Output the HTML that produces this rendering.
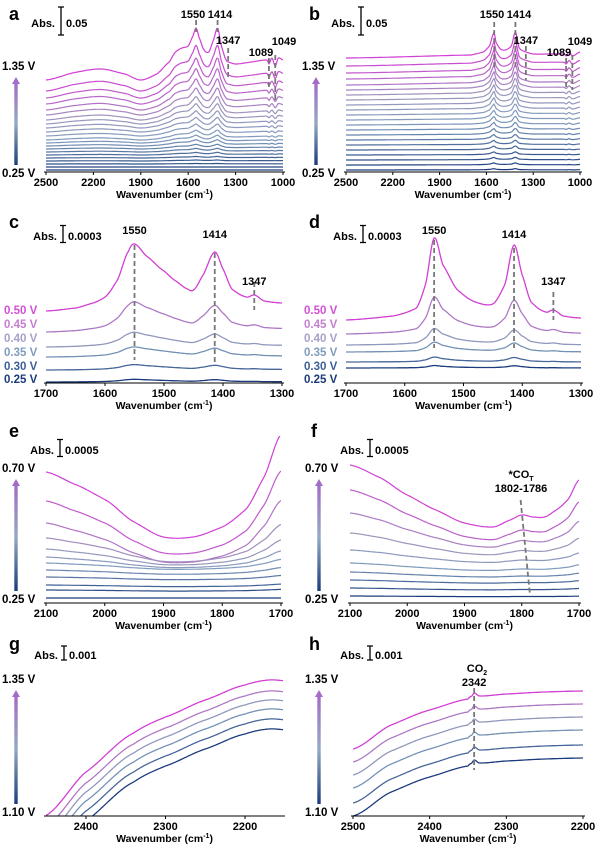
<!DOCTYPE html>
<html><head><meta charset="utf-8"><style>
html,body{margin:0;padding:0;background:#fff}
svg{display:block;font-family:"Liberation Sans",Arial,sans-serif;font-weight:bold}
</style></head><body>
<svg id="fig" width="600" height="852" viewBox="0 0 600 852" xmlns="http://www.w3.org/2000/svg">
<defs>
<linearGradient id="vgrad" x1="0" y1="1" x2="0" y2="0">
<stop offset="0" stop-color="#1b3b7c"/><stop offset="0.5" stop-color="#93a9c4"/><stop offset="1" stop-color="#a36cc8"/>
</linearGradient>
</defs>
</svg>
<script>
// ---------- data ----------
const aProfileW=[2500,2300,2150,2000,1900,1800,1720,1680,1640,1600,1570,1550,1530,1500,1470,1440,1414,1390,1360,1347,1300,1200,1100,1089,1070,1049,1030,1000];
const aProfileV=[0,8,11,6,0,6,18,28,32,34,44,52,42,30,28,40,52,34,20,18,16,18,20,16,22,14,22,20];
const aOffsets=[2,5,8,11,14,17,20,23,26,29,32,36,40,44,48,52,57,62,68,74,81,92];
const aAmps=[0,0,0.01,0.02,0.03,0.05,0.07,0.09,0.12,0.15,0.19,0.23,0.28,0.33,0.39,0.45,0.52,0.6,0.68,0.77,0.88,1];
const bProfileW=[2500,1700,1620,1580,1560,1550,1540,1510,1480,1440,1414,1390,1347,1300,1100,1089,1070,1049,1000];
const bProfileV=[0,3,6,12,22,26,16,9,8,12,26,10,6,4,4,2,6,2,6];
const bOffsets=[2,7,12,17,22,27,32,37,42,47,52,57,62,67,72,77,82,87,93,99,106,114];
const bAmps=[0.05,0.08,0.1,0.12,0.15,0.18,0.21,0.25,0.29,0.33,0.37,0.42,0.47,0.52,0.58,0.64,0.7,0.76,0.82,0.88,0.94,1];
const cProfileW=[1700,1650,1620,1600,1580,1560,1550,1530,1500,1480,1460,1450,1435,1414,1400,1385,1360,1347,1330,1300];
const cProfileV=[0,3,8,14,30,60,67,55,40,30,22,21,35,59,42,22,14,16,10,8];
const cOffsets=[72,51,36,26,13,1];
const cAmps=[1,0.45,0.22,0.15,0.08,0.04];
const dProfileW=[1700,1620,1580,1565,1550,1535,1510,1480,1450,1430,1414,1400,1385,1360,1347,1330,1300];
const dProfileV=[0,4,12,35,82,55,30,18,16,35,75,45,18,8,10,4,2];
const dOffsets=[63,49,38,31,21,15];
const dAmps=[1,0.45,0.2,0.12,0.06,0.03];
const eProfileW=[2100,2050,2000,1950,1900,1850,1800,1760,1730,1700];
const eProfileV=[0,-10,-22,-40,-52,-52,-44,-30,-5,30];
const eOffsets=[131,102,80,65,54,46,40,33,26,18,13,5];
const eAmps=[1.25,1,0.75,0.45,0.3,0.2,0.12,0.08,0.05,0.03,0.02,0];
const fProfileW=[2100,2050,2000,1950,1900,1850,1820,1800,1780,1760,1740,1720,1700];
const fProfileV=[0,-12,-30,-45,-58,-62,-55,-50,-52,-52,-45,-35,-15];
const fOffsets=[138,113,90,70,53,40,31,23,15,7];
const fAmps=[1,0.8,0.55,0.35,0.2,0.12,0.08,0.05,0.03,0.01];
const gProfileW=[2452,2400,2340,2300,2250,2200,2170,2145];
const gProfileV=[0,44,83,99,116,131,136,135];
const gOffsets=[0,-11,-20,-29,-39,-49];
const gAmps=[1,1,1,1,1,1];
const hProfileW=[2500,2450,2400,2350,2345,2342,2335,2300,2250,2200];
const hProfileV=[0,24,39,50,53,56,53,55,57,58];
const hOffsets=[67,54,41,28,13,0];
const hAmps=[1,1,1,1,1,1];
// tick labels
const aTicks=[2500,2200,1900,1600,1300,1000];
const cTicks=[1700,1600,1500,1400,1300];
const eTicks=[2100,2000,1900,1800,1700];
const gTicks=[2400,2300,2200];
const hTicks=[2500,2400,2300,2200];
const cVolts=["0.50 V","0.45 V","0.40 V","0.35 V","0.30 V","0.25 V"];

// ---------- helpers ----------
const svg=document.getElementById('fig');
const NS='http://www.w3.org/2000/svg';
function mk(tag,attrs,parent){const e=document.createElementNS(NS,tag);for(const k in attrs)e.setAttribute(k,attrs[k]);(parent||svg).appendChild(e);return e;}
function hex(c){return [parseInt(c.substr(1,2),16),parseInt(c.substr(3,2),16),parseInt(c.substr(5,2),16)];}
const stops=[[0,'#1b3b7c'],[0.45,'#7f9cbd'],[0.7,'#9c96bc'],[1,'#d13fd4']];
function col(t){for(let i=1;i<stops.length;i++){if(t<=stops[i][0]){const a=stops[i-1],b=stops[i];const f=(t-a[0])/(b[0]-a[0]);const A=hex(a[1]),B=hex(b[1]);return 'rgb('+A.map((v,j)=>Math.round(v+(B[j]-v)*f)).join(',')+')';}}return stops[stops.length-1][1];}
function interp(W,V,w){
  if(w>=W[0])return V[0];
  const n=W.length;
  for(let i=1;i<n;i++){const w0=W[i-1],w1=W[i];
    if(w<=w0&&w>=w1){
      const t=(w0-w)/(w0-w1);
      const p0=V[Math.max(i-2,0)],p1=V[i-1],p2=V[i],p3=V[Math.min(i+1,n-1)];
      // Catmull-Rom (uniform), lightly tensioned
      const m1=0.5*(p2-p0)*0.8,m2=0.5*(p3-p1)*0.8;
      const t2=t*t,t3=t2*t;
      return (2*t3-3*t2+1)*p1+(t3-2*t2+t)*m1+(-2*t3+3*t2)*p2+(t3-t2)*m2;
    }}
  return V[n-1];
}
let clipN=0;
function panel(p){
  const clipTop=p.clipTop||0;
  const g=mk('g',{});
  
  
  const xs=w=>p.x0+(p.w0-w)*(p.x1-p.x0)/(p.w0-p.w1);
  const ys=v=>p.axisY-v;
  clipN++;
  const cp=mk('clipPath',{id:'cp'+clipN},g);
  mk('rect',{x:p.cx0,y:clipTop,width:p.cx1-p.cx0,height:p.axisY-clipTop},cp);
  const cg=mk('g',{'clip-path':'url(#cp'+clipN+')'},g);
  const n=p.offsets.length;
  for(let i=0;i<n;i++){
    let pts=[];
    for(let px=p.cx0;px<=p.cx1+0.01;px+=1){
      const w=p.w0-(px-p.x0)*(p.w0-p.w1)/(p.x1-p.x0);
      const v=p.offsets[i]+p.amps[i]*interp(p.PW,p.PV,w);
      pts.push(px.toFixed(1)+','+ys(v).toFixed(1));
    }
    const t=p.topFirst? (n-1-i)/(n-1) : i/(n-1);
    const pl=mk('polyline',{points:pts.join(' '),fill:'none',stroke:col(t),'stroke-width':p.sw||1.2,'stroke-linejoin':'round'},cg);
    
    
  }
  const ax=mk('line',{x1:p.cx0-2,x2:p.cx1+2,y1:p.axisY,y2:p.axisY,stroke:'#000','stroke-width':1},g);
  
  
  p.ticks.forEach(tk=>{
    const x=xs(tk);
    mk('line',{x1:x,x2:x,y1:p.axisY,y2:p.axisY+3,stroke:'#000'},g);
    const tx=mk('text',{x:x,y:p.axisY+14,'text-anchor':'middle','font-size':11},g);
    tx.textContent=tk;
    
    
  });
  const xl=mk('text',{x:(p.cx0+p.cx1)/2,y:p.axisY+26,'text-anchor':'middle','font-size':10.5},g);
  xl.innerHTML='Wavenumber (cm<tspan dy="-4" font-size="7">-1</tspan><tspan dy="4">)</tspan>';
  
  
  const lt=mk('text',{x:p.lx,y:p.ly,'font-size':18},g);
  lt.textContent=p.letter;
  
  
  const sb=mk('text',{x:p.sbx,y:p.sby,'font-size':11,'text-anchor':'end'},g);
  sb.textContent='Abs.';
  
  
  const bx=p.sbx+6;
  mk('path',{d:`M${bx-3},${p.sby-6-p.sbh/2}H${bx+3}M${bx},${p.sby-6-p.sbh/2}V${p.sby-6+p.sbh/2}M${bx-3},${p.sby-6+p.sbh/2}H${bx+3}`,stroke:'#000','stroke-width':1.3,fill:'none'},g);
  const sv=mk('text',{x:bx+5,y:p.sby,'font-size':11},g);
  sv.textContent=p.sbv;
  
  
  if(p.vTop){
    const vt=mk('text',{x:p.vx,y:p.vTopY,'font-size':11.5},g);vt.textContent=p.vTop;
    
    
    const vb=mk('text',{x:p.vx,y:p.vBotY,'font-size':11.5},g);vb.textContent=p.vBot;
    
    
    const ar=p.vx+14;
    mk('rect',{x:ar-1.7,y:p.vTopY+12,width:3.4,height:p.vBotY-p.vTopY-24,fill:'url(#vgrad)'},g);
    const ah=mk('path',{d:`M${ar-4},${p.vTopY+14}L${ar},${p.vTopY+7}L${ar+4},${p.vTopY+14}Z`,fill:'#a36cc8'},g);
    
    
  }
  (p.marks||[]).forEach(m=>{
    const x1=xs(m.w),x2=xs(m.w2||m.w);
    mk('line',{x1:x1,x2:x2,y1:m.ya,y2:m.yb,stroke:'#777','stroke-width':1.8,'stroke-dasharray':'5,3'},g);
    if(m.label){
      const t=mk('text',{x:(m.lx!==undefined?m.lx:x1),y:m.ly,'text-anchor':'middle','font-size':11},g);
      t.textContent=m.label;
      
      
    }
  });
  return g;
}
panel({letter:'a',lx:9,ly:20,x0:46,x1:283,w0:2500,w1:1000,cx0:46,cx1:283,axisY:172,PW:aProfileW,PV:aProfileV,offsets:aOffsets,amps:aAmps,ticks:aTicks,sbx:55,sby:27,sbh:28,sbv:'0.05',vTop:'1.35 V',vBot:'0.25 V',vx:2,vTopY:70,vBotY:177,sw:1.2,
 marks:[{w:1550,ya:20,yb:32,label:'1550',ly:18,lx:193},{w:1414,ya:20,yb:32,label:'1414',ly:18,lx:220},{w:1347,ya:48,yb:80,label:'1347',ly:44},{w:1089,ya:58,yb:90,label:'1089',ly:56,lx:261},{w:1049,ya:55,yb:100,label:'1049',ly:45,lx:284}]});
panel({letter:'b',lx:309,ly:20,x0:346,x1:580,w0:2500,w1:1000,cx0:346,cx1:580,axisY:172,PW:bProfileW,PV:bProfileV,offsets:bOffsets,amps:bAmps,ticks:aTicks,sbx:355,sby:27,sbh:28,sbv:'0.05',vTop:'1.35 V',vBot:'0.25 V',vx:302,vTopY:70,vBotY:177,sw:1.2,
 marks:[{w:1550,ya:22,yb:70,label:'1550',ly:18,lx:492},{w:1414,ya:22,yb:70,label:'1414',ly:18,lx:519},{w:1347,ya:46,yb:80,label:'1347',ly:44},{w:1089,ya:58,yb:90,label:'1089',ly:56,lx:559},{w:1049,ya:55,yb:90,label:'1049',ly:45,lx:580}]});
panel({letter:'c',lx:9,ly:228,x0:46,x1:282,w0:1700,w1:1300,cx0:46,cx1:282,axisY:383,PW:cProfileW,PV:cProfileV,offsets:cOffsets,amps:cAmps,ticks:cTicks,sbx:57,sby:240,sbh:17,sbv:'0.0003',sw:1.3,topFirst:true,
 marks:[{w:1550,ya:245,yb:360,label:'1550',ly:234},{w:1414,ya:253,yb:362,label:'1414',ly:238},{w:1347,ya:282,yb:310,label:'1347',ly:285}]});
panel({letter:'d',lx:309,ly:228,x0:346,x1:581,w0:1700,w1:1300,cx0:346,cx1:581,axisY:383,PW:dProfileW,PV:dProfileV,offsets:dOffsets,amps:dAmps,ticks:cTicks,sbx:357,sby:240,sbh:17,sbv:'0.0003',sw:1.3,topFirst:true,
 marks:[{w:1550,ya:240,yb:348,label:'1550',ly:234},{w:1414,ya:248,yb:348,label:'1414',ly:238},{w:1347,ya:292,yb:320,label:'1347',ly:285}]});
panel({letter:'e',lx:9,ly:437,x0:46,x1:281,w0:2100,w1:1700,cx0:46,cx1:281,axisY:603,clipTop:436,PW:eProfileW,PV:eProfileV,offsets:eOffsets,amps:eAmps,ticks:eTicks,sbx:54,sby:454,sbh:17,sbv:'0.0005',vTop:'0.70 V',vBot:'0.25 V',vx:2,vTopY:472,vBotY:603,sw:1.2,topFirst:true});
panel({letter:'f',lx:311,ly:437,x0:350,x1:579,w0:2100,w1:1700,cx0:350,cx1:579,axisY:603,PW:fProfileW,PV:fProfileV,offsets:fOffsets,amps:fAmps,ticks:eTicks,sbx:364,sby:454,sbh:17,sbv:'0.0005',vTop:'0.70 V',vBot:'0.25 V',vx:305,vTopY:472,vBotY:603,sw:1.2,topFirst:true,
 marks:[{w:1802,w2:1786,ya:500,yb:593,label:'1802-1786',ly:492,lx:521}]});
panel({letter:'g',lx:9,ly:650,x0:86,x1:245,w0:2400,w1:2200,cx0:46,cx1:283,axisY:816,PW:gProfileW,PV:gProfileV,offsets:gOffsets,amps:gAmps,ticks:gTicks,sbx:58,sby:659,sbh:14,sbv:'0.001',vTop:'1.35 V',vBot:'1.10 V',vx:2,vTopY:683,vBotY:816,sw:1.3,topFirst:true});
panel({letter:'h',lx:309,ly:650,x0:353,x1:583,w0:2500,w1:2200,cx0:353,cx1:583,axisY:816,PW:hProfileW,PV:hProfileV,offsets:hOffsets,amps:hAmps,ticks:hTicks,sbx:364,sby:659,sbh:14,sbv:'0.001',vTop:'1.35 V',vBot:'1.10 V',vx:305,vTopY:683,vBotY:816,sw:1.3,topFirst:true,
 marks:[{w:2342,ya:688,yb:770,label:'2342',ly:686}]});
const cot=mk('text',{x:521,y:478,'text-anchor':'middle','font-size':11});
cot.innerHTML='*CO<tspan dy="3" font-size="7">T</tspan>';


const co2=mk('text',{x:477,y:672,'text-anchor':'middle','font-size':11});
co2.innerHTML='CO<tspan dy="3" font-size="7">2</tspan>';


const vcols=['#d34fd3','#c47fd0','#a8a0c8','#7f9cbd','#3d5e96','#1b3b7c'];
const cY=[314,328,342,356,370,383];
[0,300].forEach(dx=>{
  cVolts.forEach((v,i)=>{
    const t=mk('text',{x:4+dx,y:cY[i],'font-size':11.5,fill:vcols[i]});
    t.textContent=v;
    
    
  });
});
</script>
</body></html>
